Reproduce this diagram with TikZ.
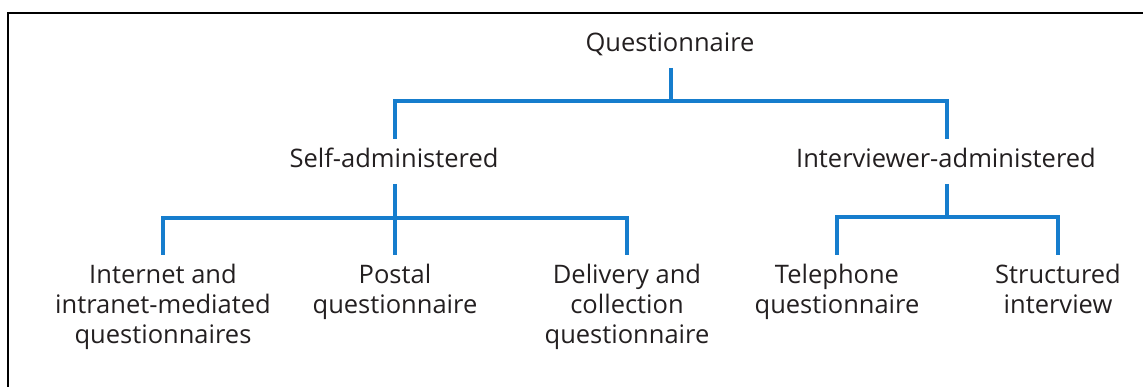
\documentclass[tikz,border=0pt]{standalone}
\usepackage{fontspec}
\setmainfont{Open Sans}
\definecolor{busblue}{RGB}{22,125,205}
\definecolor{inkgray}{RGB}{35,31,32}
\begin{document}
\begin{tikzpicture}[x=1pt,y=-1pt,
  label/.style={inner sep=0pt, outer ysep=10pt, text=inkgray, align=center,
    font=\fontsize{25.5}{29.5}\selectfont},
  head/.style={label, text height=19pt, text depth=6pt},
  bus/.style={draw=busblue, line width=4pt},
  frame/.style={draw=black, line width=2pt}]
  \useasboundingbox (0,0) rectangle (1143,387);
  \begin{scope}
    \clip (0,0) rectangle (1143,387);
    \draw[frame] (8,400) -- (8,13) -- (1160,13);
  \end{scope}

  % single-line headings (anchored on their baseline)
  \node[head, anchor=base] (q)  at (670,52)  {Questionnaire};
  \node[head, anchor=base] (sa) at (394,168) {Self-administered};
  \node[head, anchor=base] (ia) at (946,168) {Interviewer-administered};
  % leaves (anchored on the baseline of their last line)
  \node[label, anchor=base] (in) at (163,343)   {Internet and\\intranet-mediated\\questionnaires};
  \node[label, anchor=base] (po) at (395,313.5) {Postal\\questionnaire};
  \node[label, anchor=base] (dc) at (627,343)   {Delivery and\\collection\\questionnaire};
  \node[label, anchor=base] (te) at (837,313.5) {Telephone\\questionnaire};
  \node[label, anchor=base] (st) at (1058,313.5) {Structured\\interview};

  % junction levels of the buses
  \coordinate (q-bus)  at (671,101);
  \coordinate (sa-bus) at (395,218);
  \coordinate (ia-bus) at (947,217);

  % connectors
  \draw[bus] (q-bus |- q.south) -- (q-bus);
  \draw[bus] (sa.north -| sa-bus) |- (q-bus) -| (ia.north -| ia-bus);
  \draw[bus] (sa.south -| sa-bus) -- (sa-bus);
  \draw[bus] (in.north) |- (sa-bus) -| (dc.north);
  \draw[bus] (sa-bus) -- (po.north);
  \draw[bus] (ia.south -| ia-bus) -- (ia-bus);
  \draw[bus] (te.north) |- (ia-bus) -| (st.north);
\end{tikzpicture}
\end{document}
